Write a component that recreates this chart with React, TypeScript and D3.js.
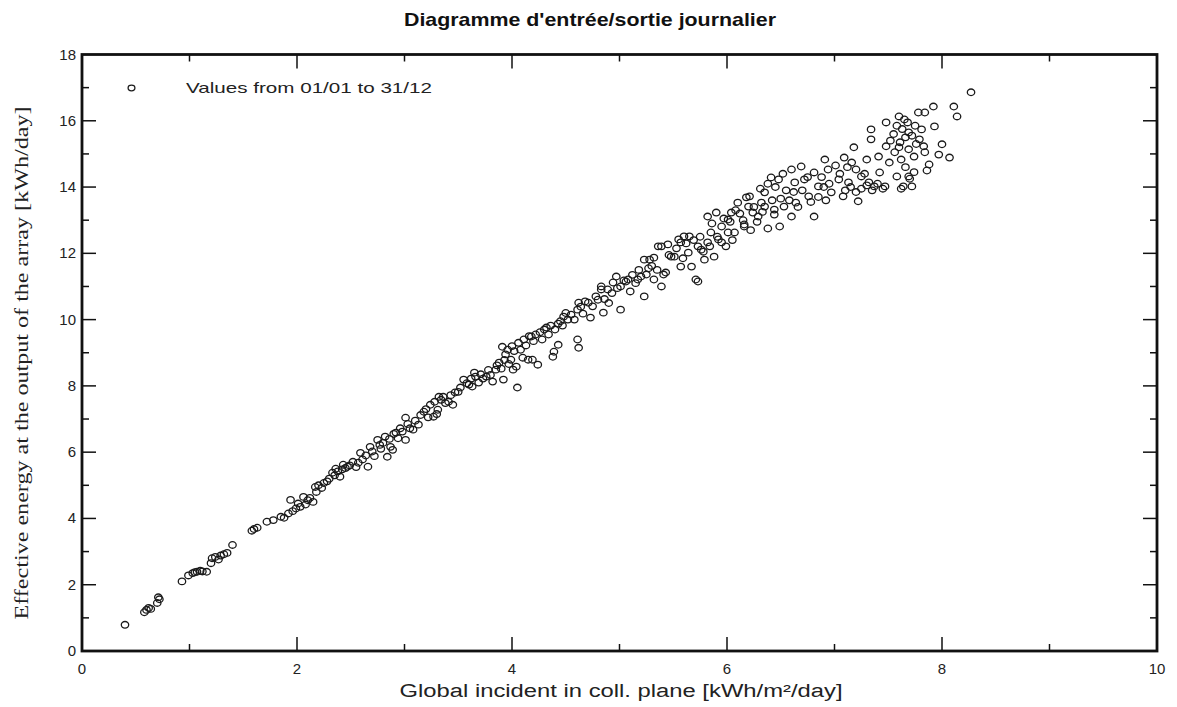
import React from "react";
import * as d3 from "d3";

// Daily points: [global incident kWh/m²/day, effective energy kWh/day]
const seg1: [number, number][] = [
  [0.40,0.79],[0.58,1.17],[0.60,1.24],[0.62,1.30],[0.64,1.27],[0.70,1.45],[0.72,1.56],[0.71,1.62],
  [0.93,2.10],[0.99,2.28],[1.03,2.35],[1.05,2.38],[1.07,2.39],[1.10,2.42],[1.12,2.40],[1.16,2.39],
  [1.20,2.65],[1.21,2.80],[1.24,2.84],[1.27,2.76],[1.29,2.88],[1.32,2.92],[1.35,2.96],[1.40,3.20],
];
const seg2: [number, number][] = [
  [1.58,3.63],[1.60,3.68],[1.63,3.72],[1.72,3.90],[1.78,3.95],[1.85,4.05],[1.88,4.02],[1.92,4.15],[1.94,4.56],
  [1.96,4.22],[1.99,4.30],[2.01,4.45],[2.03,4.35],[2.06,4.65],[2.08,4.42],[2.10,4.55],[2.12,4.62],[2.15,4.50],
  [2.17,4.95],[2.18,4.80],[2.20,5.00],[2.23,4.92],[2.25,5.07],[2.28,5.12],[2.30,5.20],[2.33,5.38],[2.35,5.30],
  [2.38,5.42],[2.40,5.26],[2.42,5.48],[2.43,5.62],[2.45,5.52],[2.47,5.56],[2.49,5.60],[2.36,5.50],
];
const seg3: [number, number][] = [
  [2.52,5.71],[2.55,5.55],[2.57,5.68],[2.59,5.98],[2.61,5.78],[2.64,5.90],[2.66,5.56],[2.68,6.16],[2.70,6.02],
  [2.72,5.88],[2.75,6.37],[2.77,6.22],[2.78,6.10],[2.80,6.28],[2.82,6.47],[2.84,5.86],[2.86,6.40],[2.87,6.16],
  [2.89,6.07],[2.90,6.55],[2.92,6.59],[2.94,6.42],[2.96,6.72],[2.98,6.62],[3.01,7.04],[3.01,6.37],[3.03,6.85],
  [3.05,6.72],[3.08,6.68],[3.10,6.95],[3.13,6.83],[3.15,7.12],[3.18,7.22],[3.20,7.30],[3.22,7.05],[3.24,7.43],
  [3.27,7.07],[3.28,7.52],[3.30,7.15],[3.31,7.28],[3.32,7.67],[3.34,7.58],[3.36,7.67],[3.38,7.48],[3.41,7.52],
  [3.43,7.72],[3.45,7.43],[3.47,7.80],
];
const seg4: [number, number][] = [
  [3.50,7.82],[3.52,7.95],[3.55,8.19],[3.58,8.08],[3.60,8.04],[3.62,8.22],[3.63,7.98],[3.65,8.40],[3.66,8.28],
  [3.69,8.10],[3.71,8.35],[3.73,8.22],[3.76,8.28],[3.78,8.48],[3.80,8.33],[3.82,8.13],[3.85,8.49],[3.86,8.62],
  [3.88,8.70],[3.90,8.52],[3.91,9.18],[3.92,8.19],[3.93,8.78],[3.94,8.95],[3.96,9.09],[3.97,8.66],[3.99,8.79],
  [4.00,9.20],[4.01,8.49],[4.02,9.05],[4.04,8.58],[4.05,7.95],[4.06,9.30],[4.08,9.09],[4.10,8.85],[4.11,9.40],
  [4.13,9.22],[4.15,8.79],[4.16,9.50],[4.18,9.49],[4.19,8.79],[4.20,9.35],[4.22,9.55],[4.24,8.64],[4.26,9.62],
  [4.28,9.40],[4.30,9.70],[4.32,9.76],[4.34,9.55],[4.36,9.82],[4.38,8.88],[4.39,9.03],[4.40,9.70],[4.43,9.24],
  [4.43,9.88],[4.45,9.95],[4.47,9.82],[4.48,10.09],
];
const seg5: [number, number][] = [
  [4.50,10.20],[4.52,10.00],[4.55,10.15],[4.58,10.00],[4.61,10.30],[4.61,9.40],[4.62,9.15],[4.62,10.51],
  [4.64,10.39],[4.66,10.18],[4.68,10.55],[4.71,10.51],[4.73,10.06],[4.75,10.40],[4.78,10.70],[4.80,10.60],
  [4.83,10.91],[4.83,11.00],[4.85,10.21],[4.86,10.62],[4.89,10.91],[4.90,10.50],[4.93,10.80],[4.94,11.12],
  [4.97,11.30],[4.98,10.95],[5.01,10.30],[5.01,11.00],[5.04,11.18],[5.06,11.15],[5.08,11.21],[5.10,10.85],
  [5.12,11.35],[5.15,11.10],[5.17,11.21],[5.18,11.50],[5.20,11.30],[5.23,10.70],[5.23,11.81],[5.25,11.36],
  [5.27,11.55],[5.28,11.81],[5.30,11.62],[5.32,11.21],[5.32,11.87],[5.35,11.50],[5.36,12.21],[5.39,11.00],
  [5.39,12.21],[5.41,11.36],[5.43,11.42],[5.45,12.27],[5.46,11.95],[5.48,11.90],
];
const seg6: [number, number][] = [
  [5.51,11.90],[5.53,12.15],[5.55,12.42],[5.57,11.60],[5.57,12.33],[5.59,11.85],[5.60,12.51],[5.62,12.30],
  [5.64,12.02],[5.65,12.51],[5.67,11.60],[5.69,12.40],[5.71,11.21],[5.73,11.15],[5.73,12.21],[5.75,12.50],
  [5.76,12.11],[5.78,12.05],[5.79,11.81],[5.82,12.33],[5.82,13.11],[5.84,12.21],[5.85,12.63],[5.86,12.90],
  [5.88,11.90],[5.90,13.23],[5.91,12.50],[5.92,12.42],[5.95,12.81],[5.95,12.33],[5.97,13.05],[5.99,12.21],
  [6.01,12.63],[6.01,13.02],[6.03,12.95],[6.04,13.23],[6.05,12.40],[6.07,12.63],[6.08,13.30],[6.10,13.53],
  [6.12,13.20],[6.15,13.00],[6.16,12.81],[6.16,12.87],[6.18,13.69],[6.20,13.41],[6.21,13.72],[6.22,12.70],
  [6.24,13.23],[6.25,13.40],[6.28,12.95],[6.29,13.11],[6.31,13.95],[6.32,13.53],[6.33,13.25],[6.35,13.84],
  [6.35,13.41],[6.38,12.75],[6.38,14.10],[6.41,14.29],[6.42,13.60],[6.44,13.17],[6.44,13.32],[6.45,14.00],
  [6.48,14.23],[6.49,12.81],
];
const seg7: [number, number][] = [
  [6.50,13.65],[6.52,14.40],[6.53,13.41],[6.55,13.90],[6.58,13.60],[6.60,13.11],[6.60,14.53],[6.62,13.85],
  [6.63,14.14],[6.64,13.53],[6.66,13.40],[6.69,14.62],[6.70,13.90],[6.72,14.23],[6.75,14.30],[6.76,13.72],
  [6.78,13.55],[6.81,14.44],[6.81,13.11],[6.85,14.02],[6.85,13.70],[6.88,14.30],[6.90,14.00],[6.91,14.83],
  [6.92,13.60],[6.94,14.53],[6.95,14.10],[6.97,13.84],[7.01,14.65],[7.04,14.23],[7.05,14.40],[7.08,13.72],
  [7.09,14.89],[7.10,13.90],[7.12,14.60],[7.13,14.14],[7.15,14.00],[7.16,14.74],[7.18,15.20],[7.20,14.53],
  [7.20,13.85],[7.22,13.57],[7.25,14.32],[7.25,13.95],[7.28,14.40],[7.30,14.83],[7.30,14.05],[7.32,14.14],
  [7.34,15.44],[7.34,15.74],[7.35,13.90],[7.37,14.02],[7.40,14.10],[7.41,14.92],[7.42,14.44],[7.45,13.95],
  [7.47,14.02],[7.48,15.95],[7.48,15.23],
];
const seg8: [number, number][] = [
  [7.51,14.74],[7.52,15.40],[7.55,15.60],[7.56,15.05],[7.58,14.32],[7.58,15.85],[7.60,16.13],[7.60,15.20],
  [7.61,15.35],[7.62,14.83],[7.62,13.95],[7.63,15.75],[7.64,14.02],[7.65,16.04],[7.66,15.50],[7.66,14.60],
  [7.68,15.95],[7.69,15.65],[7.69,15.14],[7.69,14.32],[7.70,14.25],[7.72,14.02],[7.72,15.55],[7.74,14.92],
  [7.74,14.45],[7.75,15.85],[7.76,15.30],[7.78,16.25],[7.79,15.44],[7.81,15.74],[7.83,15.23],[7.84,16.25],
  [7.84,15.05],[7.86,14.50],[7.88,14.68],[7.92,16.43],[7.93,15.83],[7.97,14.98],[8.00,15.29],[8.07,14.89],
  [8.11,16.43],[8.14,16.13],[8.27,16.86],
];

const xTicks = [0, 2, 4, 6, 8, 10];
const yTicks = [0, 2, 4, 6, 8, 10, 12, 14, 16, 18];
const xMinor = [1, 3, 5, 7, 9];
const yMinor = [1, 3, 5, 7, 9, 11, 13, 15, 17];

const titleText = "Diagramme d'entrée/sortie journalier";
const xLabel = "Global incident in coll. plane [kWh/m²/day]";
const yLabel = "Effective energy at the output of the array [kWh/day]";
const legendText = "Values from 01/01 to 31/12";

export default function App() {
  const W = 1177, H = 707;
  const left = 82, right = 1157, top = 54.5, bottom = 651;
  const x = d3.scaleLinear().domain([0, 10]).range([left, right]);
  const y = d3.scaleLinear().domain([0, 18]).range([bottom, top]);
  const points = [...seg1, ...seg2, ...seg3, ...seg4, ...seg5, ...seg6, ...seg7, ...seg8];
  const sans = "'Liberation Sans', Arial, Helvetica, sans-serif";
  const major = 14, minor = 7;
  const tk = "#111";
  return (
    <svg width={W} height={H} style={{ position: "absolute", left: 0, top: 0, background: "#fff" }}>
      <rect x={0} y={0} width={W} height={H} fill="#fff" />
      <text x={590} y={26} textAnchor="middle" fontFamily="'Liberation Sans Narrow', 'Liberation Sans', Arial, sans-serif"
        fontWeight="bold" fontSize={19} textLength={372} lengthAdjust="spacingAndGlyphs" fill="#111">{titleText}</text>

      {points.map((p, i) => (
        <ellipse key={i} cx={x(p[0])} cy={y(p[1])} rx={3.7} ry={3.3} fill="none" stroke="#1a1a1a" strokeWidth={1.3} />
      ))}

      {/* ticks */}
      {xTicks.slice(1, -1).map((t) => (
        <g key={"xt" + t}>
          <line x1={x(t)} x2={x(t)} y1={bottom} y2={bottom - major} stroke={tk} strokeWidth={1.5} />
          <line x1={x(t)} x2={x(t)} y1={top} y2={top + major} stroke={tk} strokeWidth={1.5} />
        </g>
      ))}
      {xMinor.map((t) => (
        <g key={"xm" + t}>
          <line x1={x(t)} x2={x(t)} y1={bottom} y2={bottom - minor} stroke={tk} strokeWidth={1.5} />
          <line x1={x(t)} x2={x(t)} y1={top} y2={top + minor} stroke={tk} strokeWidth={1.5} />
        </g>
      ))}
      {yTicks.slice(1, -1).map((t) => (
        <g key={"yt" + t}>
          <line x1={left} x2={left + major} y1={y(t)} y2={y(t)} stroke={tk} strokeWidth={1.5} />
          <line x1={right} x2={right - major} y1={y(t)} y2={y(t)} stroke={tk} strokeWidth={1.5} />
        </g>
      ))}
      {yMinor.map((t) => (
        <g key={"ym" + t}>
          <line x1={left} x2={left + minor} y1={y(t)} y2={y(t)} stroke={tk} strokeWidth={1.5} />
          <line x1={right} x2={right - minor} y1={y(t)} y2={y(t)} stroke={tk} strokeWidth={1.5} />
        </g>
      ))}
      <rect x={left} y={top} width={right - left} height={bottom - top} fill="none" stroke="#111" strokeWidth={2.8} />

      {/* tick labels */}
      {xTicks.map((t) => (
        <text key={"xl" + t} x={x(t)} y={674} textAnchor="middle" fontFamily={sans} fontSize={15} fill="#222">{t}</text>
      ))}
      {yTicks.map((t) => (
        <text key={"yl" + t} x={76} y={y(t) + 5} textAnchor="end" fontFamily={sans} fontSize={15} fill="#222">{t}</text>
      ))}

      {/* legend */}
      <ellipse cx={131.5} cy={88} rx={3.4} ry={2.8} fill="none" stroke="#1a1a1a" strokeWidth={1.3} />
      <text x={186} y={93} fontFamily={sans} fontSize={15} textLength={246} lengthAdjust="spacingAndGlyphs" fill="#222">{legendText}</text>

      {/* axis labels */}
      <text x={621} y={697} textAnchor="middle" fontFamily={sans} fontSize={18} textLength={443} lengthAdjust="spacingAndGlyphs" fill="#222">{xLabel}</text>
      <text transform={`translate(28, ${363}) rotate(-90)`} textAnchor="middle" fontFamily="'Liberation Serif', 'Times New Roman', serif"
        fontSize={18} textLength={513} lengthAdjust="spacingAndGlyphs" fill="#222">{yLabel}</text>
    </svg>
  );
}
